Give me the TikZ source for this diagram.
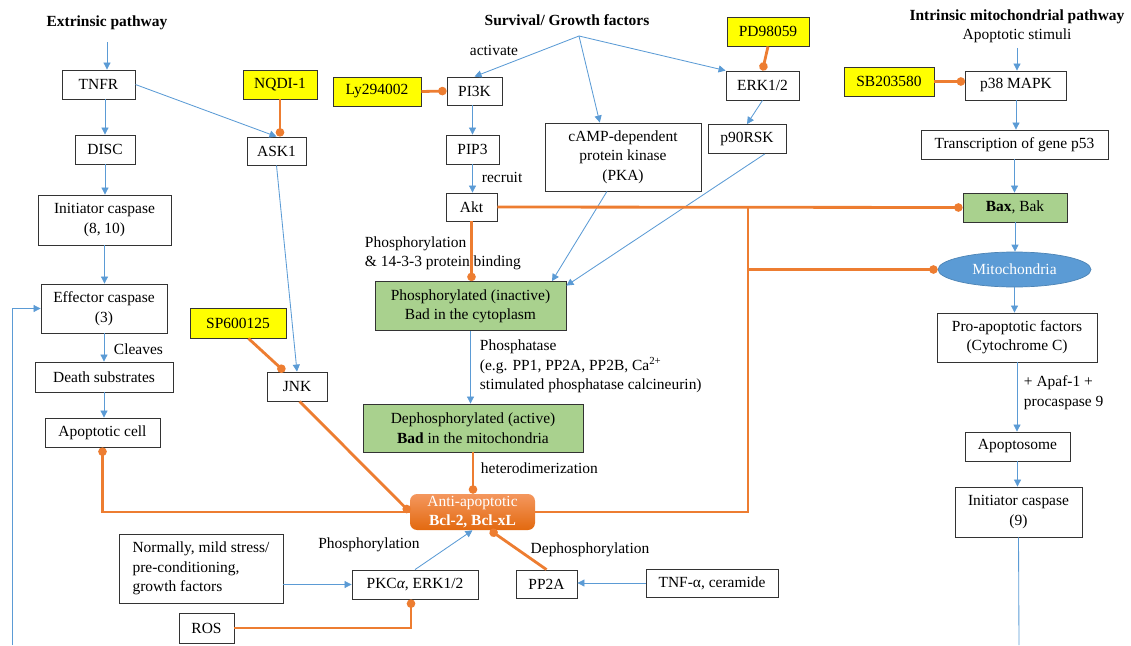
\documentclass[tikz,border=0pt]{standalone}
\usepackage{fontspec}
\setmainfont{Liberation Serif}
\usetikzlibrary{arrows.meta,shapes.geometric}
\definecolor{flowblue}{HTML}{5B9BD5}
\definecolor{inhorange}{HTML}{ED7D31}
\definecolor{drugyellow}{HTML}{FFFF00}
\definecolor{badgreen}{HTML}{A9D18E}
\definecolor{bcltop}{HTML}{F4975E}
\definecolor{bclbot}{HTML}{E2690F}

\begin{document}
\begin{tikzpicture}[x=0.025cm, y=-0.025cm,
	every node/.style={font=\fontsize{11}{13.8}\selectfont},
	title/.style={font=\fontsize{11}{13.8}\selectfont\bfseries},
	box/.style 2 args={draw=black!80, line width=0.6pt, fill=white, align=center, inner sep=1pt,
		minimum width=#1*0.025cm, minimum height=#2*0.025cm},
	drug/.style 2 args={box={#1}{#2}, fill=drugyellow},
	bad/.style 2 args={box={#1}{#2}, fill=badgreen},
	link/.style={draw=flowblue, line width=0.6pt},
	flow/.style={link, -{Triangle[length=5pt,width=5pt]}},
	bar/.style={draw=inhorange, line width=2pt},
	inhib/.style={bar, -{Circle[length=6pt,width=6pt]}}]
	\useasboundingbox (0,0) rectangle (1131,645);

	\node[title] (extr) at (107,23) {Extrinsic pathway};
	\node[title] (surv) at (567,20) {Survival/ Growth factors};
	\node[title] (intr) at (1017,17) {Intrinsic mitochondrial pathway};
	\node (stim) at (1017,36) {Apoptotic stimuli};
	\coordinate (extrpt) at (107,42);
	\coordinate (survpt) at (579,36);

	\node[box={73}{29}] (tnfr) at (98.5,84.5) {TNFR};
	\node[box={60}{29}] (disc) at (105,149.5) {DISC};
	\node[box={133}{50}] (init) at (104.5,220) {Initiator caspase\\(8, 10)};
	\node[box={126}{49}] (eff) at (104,308.5) {Effector caspase\\(3)};
	\node[box={138}{30}] (death) at (104,377) {Death substrates};
	\node[box={115}{29}] (apop) at (102.5,432.5) {Apoptotic cell};
	\node[anchor=west] (clv) at (109,349) {Cleaves};
	\coordinate (lowL) at (12,645);

	\node[drug={74}{29}] (nqdi) at (280,84.5) {NQDI-1};
	\node[box={59}{28}] (ask) at (276.5,151) {ASK1};
	\node[drug={96}{30}] (sp6) at (238,323) {SP600125};
	\node[box={60}{29}] (jnk) at (297,386.5) {JNK};

	\node[drug={88}{29}] (ly) at (377,91.5) {Ly294002};
	\node[box={55}{28}] (pi3k) at (474.5,91) {PI3K};
	\node[box={53}{29}] (pip3) at (472.5,149.5) {PIP3};
	\node[box={51}{28}] (akt) at (471.5,207) {Akt};
	\node (actv) at (494,50) {activate};
	\node[anchor=west] (recr) at (477,177) {recruit};
	\node[box={156}{68}] (camp) at (623,157) {cAMP-dependent\\protein kinase\\(PKA)};
	\node[drug={82}{29}] (pd) at (768,31.5) {PD98059};
	\node[box={73}{29}] (erk) at (762.5,85.5) {ERK1/2};
	\node[box={78}{29}] (p90) at (747,139) {p90RSK};

	\node[bad={191}{49}] (phos) at (470.5,306) {Phosphorylated (inactive)\\Bad in the cytoplasm};
	\node[anchor=west, align=left] (phlab) at (360,253.5) {Phosphorylation\\\& 14-3-3 protein binding};
	\node[anchor=west, align=left] (ptase) at (475,366.5) {Phosphatase\\(e.g. PP1, PP2A, PP2B, Ca\textsuperscript{2+}\\stimulated phosphatase calcineurin)};
	\node[bad={220}{48}] (deph) at (473,428) {Dephosphorylated (active)\\\textbf{Bad} in the mitochondria};
	\node[anchor=west] (hdim) at (476,468) {heterodimerization};
	\node[rounded corners=5pt, top color=bcltop, bottom color=bclbot, text=white, align=center, inner sep=0pt,
		minimum width=125*0.025cm, minimum height=36*0.025cm] (anti) at (472.5,512) {Anti-apoptotic\\\textbf{Bcl-2, Bcl-xL}};

	\node[drug={90}{29}] (sb) at (889,81.5) {SB203580};
	\node[box={101}{29}] (p38) at (1016,85.5) {p38 MAPK};
	\node[box={187}{29}] (p53) at (1014.5,144.5) {Transcription of gene p53};
	\node[bad={104}{29}] (bax) at (1015,207.5) {\textbf{Bax}, Bak};
	\node[ellipse, fill=flowblue, draw=flowblue!85!black, line width=0.5pt, text=white, inner sep=0pt,
		minimum width=153*0.025cm, minimum height=35*0.025cm] (mito) at (1014.5,269.5) {Mitochondria};
	\node[box={160}{49}] (pro) at (1017,337.5) {Pro-apoptotic factors\\(Cytochrome C)};
	\node[anchor=west, align=left] (apaf) at (1019,392.5) {+ Apaf-1 +\\procaspase 9};
	\node[box={105}{29}] (apts) at (1017.5,446.5) {Apoptosome};
	\node[box={127}{50}] (init9) at (1018.5,512) {Initiator caspase\\(9)};
	\coordinate (lowR) at (1019,645);

	\node[box={164}{69}, align=left] (norm) at (201,568.5) {Normally, mild stress/\\pre-conditioning,\\growth factors};
	\node[box={126}{29}] (pkc) at (415,584.5) {PKC\textit{α}, ERK1/2};
	\node[box={55}{30}] (ros) at (206.5,628) {ROS};
	\node[box={61}{28}] (pp2a) at (546.5,584) {PP2A};
	\node[box={132}{28}] (tnfa) at (712,583) {TNF-α, ceramide};
	\node (phlab2) at (369,545) {Phosphorylation};
	\node (dphlab) at (590,550) {Dephosphorylation};

	\draw[flow] (extrpt) -- (extrpt |- tnfr.north);
	\draw[flow] (disc |- tnfr.south) -- (disc.north);
	\draw[flow] (disc.south) -- (disc.south |- init.north);
	\draw[flow] (init.south) -- (init.south |- eff.north);
	\draw[flow] (eff.south) -- (eff.south |- death.north);
	\draw[flow] (death.south) -- (death.south |- apop.north);
	\draw[flow] (lowL) |- (eff.west);
	\draw[flow] (tnfr.east) -- (ask.north);
	\draw[flow] (ask.south) -- (jnk.north);
	\draw[flow] (survpt) -- (pi3k.north);
	\draw[flow] (survpt) -- (camp.124);
	\draw[flow] (survpt) -- (erk.north west);
	\draw[flow] (pip3 |- pi3k.south) -- (pip3.north);
	\draw[flow] (pip3.south) -- (pip3.south |- akt.north);
	\draw[flow] (erk.south) -- (p90.north);
	\draw[flow] (camp.-115) -- (phos.17);
	\draw[flow] (p90.-40) -- (phos.12);
	\draw[flow] (phos.south) -- (phos.south |- deph.north);
	\draw[flow] (stim.south) -- (stim.south |- p38.north);
	\draw[flow] (p38.south) -- (p38.south |- p53.north);
	\draw[flow] (p53.south) -- (p53.south |- bax.north);
	\draw[flow] (bax.south) -- (bax.south |- mito.north);
	\draw[flow] (mito.south) -- (mito.south |- pro.north);
	\draw[flow] (pro.south) -- (pro.south |- apts.north);
	\draw[flow] (apts.south) -- (apts.south |- init9.north);
	\draw[link] (init9.south) -- (lowR);
	\draw[flow] (norm.east |- pkc.west) -- (pkc.west);
	\draw[flow] (pkc.north) -- (anti.south);
	\draw[flow] (tnfa.west) -- (tnfa.west -| pp2a.east);

	\draw[inhib] (nqdi.south) -- (nqdi.south |- ask.north);
	\draw[inhib] (ly.east) -- (pi3k.west);
	\draw[inhib] (pd.south) -- (erk.north);
	\draw[inhib] (sb.east) -- (sb.east -| p38.west);
	\draw[inhib] (sp6.-56) -- (jnk.130);
	\draw[inhib] (jnk.-80) -- (anti.west);
	\draw[inhib] (anti.west) -| (apop.south);
	\draw[inhib] (akt.south) -- (akt.south |- phos.north);
	\draw[inhib] (akt.east) -- (bax.west);
	\draw[inhib] (deph.south) -- (deph.south |- anti.north);
	\coordinate (tee) at (748,207);
	\coordinate (junc) at (748,269.5);
	\draw[bar] (tee) -- (junc);
	\draw[inhib] (anti.east) -| (junc) -- (mito.west);
	\draw[inhib] (ros.east) -| (pkc.-105);
	\draw[inhib] (pp2a.north) -- (anti.-46);
\end{tikzpicture}
\end{document}
